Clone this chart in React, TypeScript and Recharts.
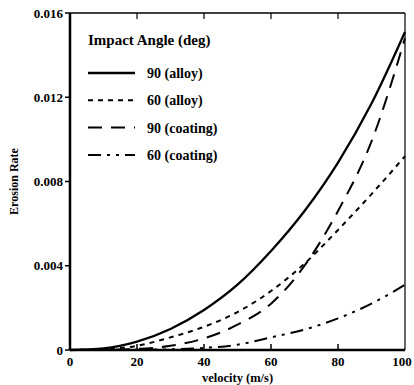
import React from 'react';
import { LineChart, Line, XAxis, YAxis, ReferenceLine } from 'recharts';

document.body.style.margin = '0';

const velocity = [0, 10, 20, 30, 40, 50, 60, 70, 80, 90, 100];
const alloy90 = [0, 0.00008, 0.0004, 0.001, 0.0019, 0.0031, 0.0047, 0.0066, 0.0089, 0.0117, 0.0151];
const alloy60 = [0, 0.00004, 0.0002, 0.0006, 0.0011, 0.0018, 0.0028, 0.0041, 0.0057, 0.0074, 0.0092];
const coating90 = [0, 0.00001, 0.00005, 0.0002, 0.00055, 0.0012, 0.0022, 0.004, 0.0066, 0.0099, 0.0148];
const coating60 = [0, 0, 0.00001, 0.00003, 0.0001, 0.00025, 0.0006, 0.00097, 0.0015, 0.0022, 0.0031];

const xTicks = [0, 20, 40, 60, 80, 100];
const topTicks = [20, 40, 60, 80];
const yTicks = [0, 0.004, 0.008, 0.012, 0.016];

const FONT = '"Liberation Serif", "Times New Roman", serif';

const series = [
  { key: 'alloy90', name: '90 (alloy)', dash: undefined, width: 2.3 },
  { key: 'alloy60', name: '60 (alloy)', dash: '5 5', width: 2 },
  { key: 'coating90', name: '90 (coating)', dash: '14 9', width: 2 },
  { key: 'coating60', name: '60 (coating)', dash: '13 6 3 6 3 6', width: 2 },
];

const data = velocity.map((v, i) => ({
  v,
  alloy90: alloy90[i],
  alloy60: alloy60[i],
  coating90: coating90[i],
  coating60: coating60[i],
}));

const BottomTick = (props: any) => {
  const { x, y, payload } = props;
  const inner = payload.value !== 0 && payload.value !== 100;
  return (
    <g>
      {inner && <line x1={x} y1={y} x2={x} y2={y - 6} stroke="#000" strokeWidth={1.5} />}
      <text x={x} y={y + 16} textAnchor="middle" fill="#000" fontSize={13} fontWeight="bold" fontFamily={FONT}>
        {payload.value}
      </text>
    </g>
  );
};

const TopTick = (props: any) => {
  const { x, y } = props;
  return <line x1={x} y1={y} x2={x} y2={y + 6} stroke="#000" strokeWidth={1.2} />;
};

const YLabel = (props: any) => {
  const { viewBox } = props;
  const cx = viewBox.x + 14;
  const cy = viewBox.y + viewBox.height / 2;
  return (
    <text
      x={cx}
      y={cy}
      transform={`rotate(-90 ${cx} ${cy})`}
      textAnchor="middle"
      dominantBaseline="central"
      fill="#000"
      fontSize={12}
      fontWeight="bold"
      fontFamily={FONT}
    >
      Erosion Rate
    </text>
  );
};

const LegendBox = () => (
  <svg width={170} height={145} style={{ position: 'absolute', left: 86, top: 26 }}>
    <text x={2} y={19} fontSize={15} fontWeight="bold" fontFamily={FONT} fill="#000">
      Impact Angle (deg)
    </text>
    {series.map((s, i) => {
      const cy = 47 + i * 27.3;
      return (
        <g key={s.key}>
          <line x1={2} y1={cy} x2={49} y2={cy} stroke="#000" strokeWidth={s.width} strokeDasharray={s.dash} />
          <text x={61} y={cy + 5} fontSize={14} fontWeight="bold" fontFamily={FONT} fill="#000">
            {s.name}
          </text>
        </g>
      );
    })}
  </svg>
);

export default function App() {
  return (
    <div style={{ position: 'relative', width: 414, height: 385, background: '#fff' }}>
      <LineChart width={414} height={385} data={data} margin={{ top: 0, right: 9, bottom: 0, left: 0 }}>
        <XAxis
          xAxisId="bottom"
          dataKey="v"
          type="number"
          domain={[0, 100]}
          ticks={xTicks}
          height={35}
          tickLine={false}
          tickSize={0}
          tickMargin={0}
          tick={<BottomTick />}
          axisLine={{ stroke: '#000', strokeWidth: 2.5 }}
          label={{
            value: 'velocity (m/s)',
            position: 'insideBottom',
            offset: 3,
            fill: '#000',
            fontSize: 12.5,
            fontWeight: 'bold',
            fontFamily: FONT,
          }}
        />
        <XAxis
          xAxisId="top"
          orientation="top"
          dataKey="v"
          type="number"
          domain={[0, 100]}
          ticks={topTicks}
          height={13}
          tickLine={false}
          tickSize={0}
          tickMargin={0}
          tick={<TopTick />}
          axisLine={{ stroke: '#000', strokeWidth: 1.3 }}
        />
        <YAxis
          yAxisId="left"
          type="number"
          domain={[0, 0.016]}
          ticks={yTicks}
          width={70}
          tickSize={5}
          tickMargin={2}
          tickFormatter={(v: number) => (v === 0 ? '0' : v.toFixed(3))}
          tickLine={{ stroke: '#000', strokeWidth: 1.5 }}
          axisLine={{ stroke: '#000', strokeWidth: 2.5 }}
          tick={{ fill: '#000', fontSize: 13, fontWeight: 'bold', fontFamily: FONT }}
          label={<YLabel />}
        />
        <ReferenceLine xAxisId="bottom" yAxisId="left" x={100} stroke="#000" strokeWidth={1.2} />
        {series.map((s) => (
          <Line
            key={s.key}
            xAxisId="bottom"
            yAxisId="left"
            type="monotone"
            dataKey={s.key}
            name={s.name}
            stroke="#000"
            strokeWidth={s.width}
            strokeDasharray={s.dash}
            dot={false}
            activeDot={false}
            isAnimationActive={false}
          />
        ))}
      </LineChart>
      <LegendBox />
    </div>
  );
}
